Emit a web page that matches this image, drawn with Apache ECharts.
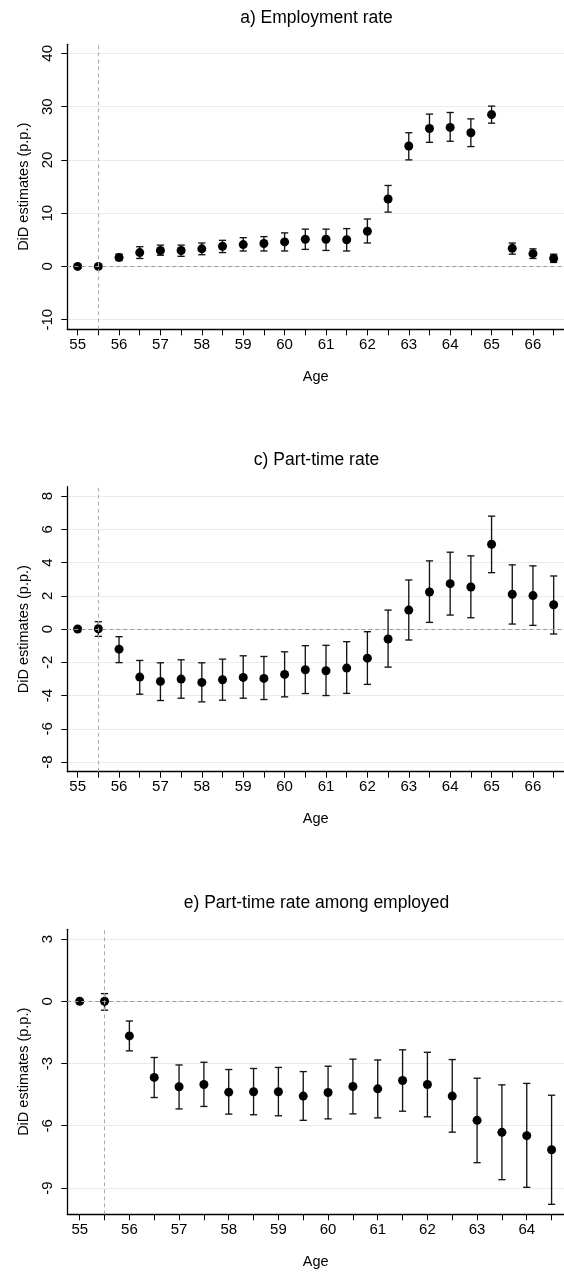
<!DOCTYPE html>
<html>
<head>
<meta charset="utf-8">
<script src="https://cdn.jsdelivr.net/npm/echarts@6/dist/echarts.min.js"></script>
<style>
  html, body { margin: 0; padding: 0; background: #fff; }
  #chart { width: 564px; height: 1273px; }
</style>
</head>
<body>
<div id="chart"></div>
<script>
// ---------- DATA ----------
const agesLong = ['55','55.5','56','56.5','57','57.5','58','58.5','59','59.5','60','60.5','61','61.5','62','62.5','63','63.5','64','64.5','65','65.5','66','66.5'];
const agesShort = ['55','55.5','56','56.5','57','57.5','58','58.5','59','59.5','60','60.5','61','61.5','62','62.5','63','63.5','64','64.5'];

const titles = ['a) Employment rate', 'c) Part-time rate', 'e) Part-time rate among employed'];

const empEst = [0, 0, 1.7, 2.6, 3.0, 3.0, 3.3, 3.8, 4.1, 4.3, 4.6, 5.1, 5.1, 5.0, 6.6, 12.65, 22.6, 25.9, 26.1, 25.1, 28.5, 3.4, 2.4, 1.5];
const empLo  = [null, null, 1.1, 1.5, 2.1, 1.9, 2.2, 2.6, 2.9, 2.9, 2.9, 3.2, 3.0, 2.9, 4.4, 10.2, 20.0, 23.3, 23.5, 22.5, 26.9, 2.3, 1.5, 0.75];
const empHi  = [null, null, 2.3, 3.7, 4.0, 4.0, 4.4, 4.9, 5.4, 5.6, 6.3, 7.0, 7.0, 7.1, 8.9, 15.2, 25.1, 28.6, 28.9, 27.7, 30.1, 4.4, 3.3, 2.3];
const empTicks = [-10, 0, 10, 20, 30, 40];

const ptEst = [0, 0.02, -1.21, -2.89, -3.15, -3.01, -3.21, -3.05, -2.91, -2.97, -2.73, -2.45, -2.51, -2.35, -1.75, -0.6, 1.14, 2.23, 2.73, 2.53, 5.1, 2.09, 2.01, 1.46];
const ptLo  = [null, -0.44, -2.02, -3.92, -4.3, -4.16, -4.38, -4.28, -4.16, -4.24, -4.08, -3.88, -4.0, -3.87, -3.33, -2.29, -0.66, 0.4, 0.84, 0.68, 3.39, 0.3, 0.22, -0.3];
const ptHi  = [null, 0.44, -0.46, -1.89, -2.03, -1.85, -2.03, -1.81, -1.61, -1.65, -1.37, -1.0, -0.98, -0.76, -0.16, 1.14, 2.95, 4.1, 4.62, 4.4, 6.79, 3.86, 3.8, 3.19];
const ptTicks = [-8, -6, -4, -2, 0, 2, 4, 6, 8];

const peEst = [0, 0, -1.67, -3.67, -4.12, -4.01, -4.38, -4.36, -4.36, -4.57, -4.4, -4.11, -4.22, -3.82, -4.01, -4.57, -5.74, -6.32, -6.48, -7.16];
const peLo  = [null, -0.43, -2.39, -4.64, -5.19, -5.07, -5.44, -5.47, -5.52, -5.74, -5.67, -5.43, -5.62, -5.3, -5.57, -6.31, -7.78, -8.6, -8.97, -9.79];
const peHi  = [null, 0.37, -0.95, -2.71, -3.07, -2.94, -3.29, -3.24, -3.19, -3.39, -3.13, -2.79, -2.83, -2.34, -2.46, -2.81, -3.71, -4.03, -3.96, -4.53];
const peTicks = [-9, -6, -3, 0, 3];

const xName = 'Age';
const yName = 'DiD estimates (p.p.)';
const reformAge = '55.5';

// ---------- CHART ----------
const FONT = '"Liberation Sans", Arial, Helvetica, sans-serif';
const panels = [
  { cats: agesLong,  est: empEst, lo: empLo, hi: empHi, ticks: empTicks, yMin: -11.8,  yMax: 41.7, top: 44.3,  titleTop: 9.5 },
  { cats: agesLong,  est: ptEst,  lo: ptLo,  hi: ptHi,  ticks: ptTicks,  yMin: -8.58,  yMax: 8.56, top: 486.7, titleTop: 451.5 },
  { cats: agesShort, est: peEst,  lo: peLo,  hi: peHi,  ticks: peTicks,  yMin: -10.27, yMax: 3.47, top: 929.3, titleTop: 894.5 }
];

const option = {
  animation: false,
  backgroundColor: '#ffffff',
  textStyle: { fontFamily: FONT, color: '#000' },
  title: [], grid: [], xAxis: [], yAxis: [], series: []
};

function errRender(params, api) {
  const x = api.value(0), lo = api.value(1), hi = api.value(2);
  const a = api.coord([x, hi]);
  const b = api.coord([x, lo]);
  const w = 3.6;
  const st = { stroke: '#141414', lineWidth: 1.35 };
  return {
    type: 'group',
    children: [
      { type: 'line', shape: { x1: a[0], y1: a[1], x2: b[0], y2: b[1] }, style: st },
      { type: 'line', shape: { x1: a[0] - w, y1: a[1], x2: a[0] + w, y2: a[1] }, style: st },
      { type: 'line', shape: { x1: b[0] - w, y1: b[1], x2: b[0] + w, y2: b[1] }, style: st }
    ]
  };
}

panels.forEach((p, k) => {
  option.title.push({
    text: titles[k], left: 316.5, top: p.titleTop, textAlign: 'center', padding: 0,
    textStyle: { fontFamily: FONT, fontSize: 17.5, fontWeight: 'normal', color: '#000' }
  });
  option.grid.push({ left: 67.3, top: p.top, width: 499, height: 285, containLabel: false });
  option.xAxis.push({
    type: 'category', gridIndex: k, data: p.cats, boundaryGap: true,
    name: xName, nameLocation: 'middle', nameGap: 40,
    nameTextStyle: { fontFamily: FONT, fontSize: 14.5, color: '#000' },
    axisLine: { show: true, onZero: false, lineStyle: { color: '#000', width: 1.3 } },
    axisTick: { show: true, alignWithLabel: true, interval: 0, length: 6, lineStyle: { color: '#000', width: 1 } },
    axisLabel: { interval: 1, margin: 8, fontFamily: FONT, fontSize: 15, color: '#000' },
    splitLine: { show: false }
  });
  option.yAxis.push({
    type: 'value', gridIndex: k, min: p.yMin, max: p.yMax,
    name: yName, nameLocation: 'middle', nameGap: 36, nameRotate: 90,
    nameTextStyle: { fontFamily: FONT, fontSize: 14.5, color: '#000' },
    axisLine: { show: true, onZero: false, lineStyle: { color: '#000', width: 1.3 } },
    axisTick: { show: true, length: 6, customValues: p.ticks, lineStyle: { color: '#000', width: 1 } },
    axisLabel: { rotate: 90, margin: 12, customValues: p.ticks, fontFamily: FONT, fontSize: 15, color: '#000',
                 showMinLabel: true, showMaxLabel: true },
    splitLine: { show: true, lineStyle: { color: '#e4edf0', width: 1 } }
  });
  // reference lines
  option.series.push({
    type: 'line', xAxisIndex: k, yAxisIndex: k, data: [], z: 1,
    markLine: {
      silent: true, symbol: 'none', animation: false,
      label: { show: false },
      data: [
        { yAxis: 0, lineStyle: { color: '#9a9a9a', type: [4, 3], width: 1 } },
        { xAxis: reformAge, lineStyle: { color: '#ababab', type: [4, 3], width: 1 } }
      ]
    }
  });
  // confidence intervals
  const ci = [];
  p.cats.forEach((c, i) => { if (p.lo[i] !== null && p.hi[i] !== null) ci.push([i, p.lo[i], p.hi[i]]); });
  option.series.push({
    type: 'custom', xAxisIndex: k, yAxisIndex: k, z: 2, silent: true,
    renderItem: errRender,
    encode: { x: 0, y: [1, 2] },
    data: ci
  });
  // point estimates
  option.series.push({
    type: 'scatter', xAxisIndex: k, yAxisIndex: k, z: 3, silent: true,
    symbol: 'circle', symbolSize: 9,
    itemStyle: { color: '#000', opacity: 1 },
    data: p.est.map((v, i) => [i, v])
  });
});

const chart = echarts.init(document.getElementById('chart'), null, { renderer: 'canvas' });
chart.setOption(option);
</script>
</body>
</html>
